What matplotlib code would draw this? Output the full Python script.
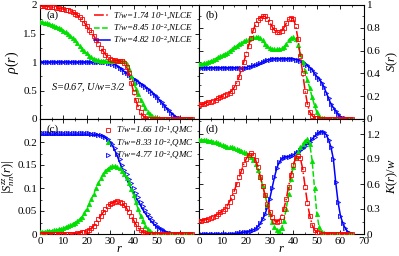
import numpy as np
import matplotlib
matplotlib.use("Agg")
import matplotlib.pyplot as plt
from matplotlib.ticker import FuncFormatter, MultipleLocator

plt.rcParams['font.family'] = ['Liberation Serif', 'DejaVu Serif']
plt.rcParams['mathtext.fontset'] = 'custom'
plt.rcParams['mathtext.rm'] = 'Liberation Serif'
plt.rcParams['mathtext.it'] = 'Liberation Serif:italic'

# radial distance
r = np.arange(66)

# (a) density rho(r)
rho_red = [1.98, 1.98, 1.98, 1.97, 1.97, 1.96, 1.96, 1.95, 1.94, 1.93,
           1.93, 1.92, 1.91, 1.90, 1.88, 1.85, 1.82, 1.79, 1.75, 1.69,
           1.63, 1.57, 1.52, 1.46, 1.39, 1.32, 1.25, 1.19, 1.13, 1.09,
           1.06, 1.04, 1.03, 1.02, 1.02, 1.01, 0.98, 0.92, 0.80, 0.64,
           0.48, 0.33, 0.21, 0.12, 0.06, 0.02, 0.005, 0, 0, 0,
           0, 0, 0, 0, 0, 0, 0, 0, 0, 0,
           0, 0, 0, 0, 0, 0]
rho_green = [1.70, 1.70, 1.69, 1.68, 1.67, 1.65, 1.64, 1.62, 1.60, 1.58,
             1.55, 1.52, 1.49, 1.46, 1.42, 1.38, 1.33, 1.28, 1.23, 1.19,
             1.15, 1.11, 1.08, 1.06, 1.04, 1.03, 1.02, 1.02, 1.02, 1.02,
             1.02, 1.02, 1.02, 1.02, 1.02, 1.02, 1.01, 0.97, 0.88, 0.76,
             0.64, 0.53, 0.43, 0.34, 0.26, 0.19, 0.13, 0.09, 0.06, 0.04,
             0.02, 0.01, 0.005, 0, 0, 0, 0, 0, 0, 0,
             0, 0, 0, 0, 0, 0]
rho_blue = [1.00, 1.00, 1.00, 1.00, 1.00, 1.00, 1.00, 1.00, 1.00, 1.00,
            1.00, 1.00, 1.00, 1.00, 1.00, 1.00, 1.00, 1.00, 1.00, 1.00,
            1.00, 1.00, 1.00, 1.00, 1.00, 1.00, 1.00, 1.00, 1.00, 0.99,
            0.98, 0.97, 0.95, 0.93, 0.90, 0.87, 0.83, 0.80, 0.77, 0.74,
            0.71, 0.68, 0.65, 0.62, 0.59, 0.56, 0.53, 0.50, 0.46, 0.42,
            0.38, 0.33, 0.29, 0.24, 0.19, 0.15, 0.11, 0.07, 0.04, 0.02,
            0.01, 0.005, 0, 0, 0, 0]

# (b) S(r)
s_red = [0.12, 0.13, 0.13, 0.14, 0.15, 0.15, 0.16, 0.17, 0.18, 0.19,
         0.20, 0.21, 0.22, 0.23, 0.25, 0.28, 0.32, 0.37, 0.44, 0.50,
         0.57, 0.64, 0.71, 0.78, 0.83, 0.87, 0.89, 0.90, 0.90, 0.88,
         0.85, 0.81, 0.78, 0.76, 0.76, 0.77, 0.80, 0.84, 0.88, 0.89,
         0.88, 0.82, 0.70, 0.55, 0.40, 0.25, 0.13, 0.06, 0.03, 0.01,
         0.005, 0, 0, 0, 0, 0, 0, 0, 0, 0,
         0, 0, 0, 0, 0, 0]
s_green = [0.48, 0.48, 0.49, 0.49, 0.50, 0.51, 0.52, 0.53, 0.54, 0.55,
           0.56, 0.57, 0.58, 0.60, 0.61, 0.63, 0.64, 0.66, 0.67, 0.68,
           0.69, 0.70, 0.71, 0.72, 0.72, 0.72, 0.71, 0.69, 0.66, 0.64,
           0.62, 0.61, 0.61, 0.61, 0.61, 0.62, 0.63, 0.66, 0.69, 0.71,
           0.72, 0.70, 0.65, 0.57, 0.50, 0.42, 0.34, 0.27, 0.19, 0.12,
           0.06, 0.03, 0.01, 0.005, 0, 0, 0, 0, 0, 0,
           0, 0, 0, 0, 0, 0]
s_blue = [0.45, 0.45, 0.45, 0.45, 0.45, 0.45, 0.45, 0.45, 0.45, 0.45,
          0.45, 0.45, 0.45, 0.45, 0.45, 0.45, 0.45, 0.45, 0.45, 0.45,
          0.45, 0.46, 0.46, 0.47, 0.47, 0.48, 0.49, 0.50, 0.51, 0.52,
          0.52, 0.53, 0.53, 0.53, 0.53, 0.53, 0.53, 0.53, 0.53, 0.53,
          0.53, 0.52, 0.52, 0.51, 0.50, 0.48, 0.47, 0.45, 0.43, 0.40,
          0.37, 0.35, 0.32, 0.28, 0.23, 0.18, 0.13, 0.10, 0.07, 0.04,
          0.02, 0.01, 0.005, 0, 0, 0]

# (c) |S^zz_nn(r)|
szz_red = [0, 0, 0, 0, 0, 0, 0, 0, 0, 0,
           0, 0, 0, 0, 0, 0.001, 0.002, 0.003, 0.004, 0.005,
           0.007, 0.009, 0.013, 0.018, 0.024, 0.032, 0.040, 0.047, 0.054, 0.060,
           0.065, 0.068, 0.070, 0.071, 0.070, 0.067, 0.062, 0.056, 0.048, 0.039,
           0.030, 0.021, 0.013, 0.008, 0.004, 0.002, 0.001, 0, 0, 0,
           0, 0, 0, 0, 0, 0, 0, 0, 0, 0,
           0, 0, 0, 0, 0, 0]
szz_green = [0.005, 0.005, 0.005, 0.006, 0.006, 0.007, 0.008, 0.009, 0.010, 0.011,
             0.013, 0.015, 0.017, 0.019, 0.022, 0.025, 0.028, 0.032, 0.038, 0.046,
             0.055, 0.065, 0.076, 0.088, 0.100, 0.111, 0.121, 0.130, 0.137, 0.142,
             0.145, 0.147, 0.147, 0.146, 0.143, 0.138, 0.131, 0.122, 0.111, 0.098,
             0.084, 0.069, 0.054, 0.040, 0.028, 0.018, 0.011, 0.006, 0.003, 0.002,
             0.001, 0, 0, 0, 0, 0, 0, 0, 0, 0,
             0, 0, 0, 0, 0, 0]
szz_blue = [0.215, 0.215, 0.215, 0.215, 0.215, 0.215, 0.215, 0.215, 0.215, 0.215,
            0.215, 0.215, 0.215, 0.215, 0.215, 0.215, 0.215, 0.215, 0.215, 0.215,
            0.215, 0.215, 0.215, 0.215, 0.215, 0.215, 0.214, 0.212, 0.209, 0.205,
            0.199, 0.192, 0.182, 0.170, 0.157, 0.144, 0.132, 0.120, 0.109, 0.099,
            0.090, 0.080, 0.071, 0.062, 0.053, 0.045, 0.038, 0.031, 0.025, 0.020,
            0.015, 0.012, 0.009, 0.006, 0.004, 0.003, 0.002, 0.001, 0.001, 0,
            0, 0, 0, 0, 0, 0]
szz_blue_qmc = [0.219, 0.219, 0.219, 0.219, 0.219, 0.219, 0.219, 0.219, 0.219, 0.219,
                0.219, 0.219, 0.219, 0.219, 0.219, 0.219, 0.219, 0.219, 0.219, 0.219,
                0.219, 0.219, 0.218, 0.218, 0.217, 0.216, 0.215, 0.213, 0.210, 0.206,
                0.201, 0.195, 0.186, 0.175, 0.163, 0.151, 0.140, 0.130, 0.120, 0.110,
                0.100, 0.090, 0.080, 0.070, 0.061, 0.052, 0.044, 0.037, 0.030, 0.024,
                0.018, 0.014, 0.010, 0.007, 0.005, 0.003, 0.002, 0.001, 0.001, 0,
                0, 0, 0, 0, 0, 0]

# (d) K(r)/w
k_red = [0.16, 0.16, 0.17, 0.17, 0.18, 0.19, 0.20, 0.22, 0.24, 0.26,
         0.28, 0.30, 0.34, 0.39, 0.45, 0.52, 0.60, 0.68, 0.76, 0.84,
         0.90, 0.95, 0.97, 0.95, 0.89, 0.80, 0.69, 0.58, 0.47, 0.36,
         0.27, 0.20, 0.16, 0.15, 0.16, 0.21, 0.30, 0.42, 0.57, 0.71,
         0.83, 0.91, 0.94, 0.91, 0.78, 0.57, 0.37, 0.22, 0.11, 0.05,
         0.02, 0.01, 0, 0, 0, 0, 0, 0, 0, 0,
         0, 0, 0, 0, 0, 0]
k_green = [1.13, 1.13, 1.13, 1.13, 1.12, 1.12, 1.11, 1.10, 1.09, 1.08,
           1.07, 1.06, 1.05, 1.05, 1.04, 1.03, 1.02, 1.01, 1.00, 0.99,
           0.97, 0.95, 0.93, 0.89, 0.84, 0.77, 0.68, 0.58, 0.47, 0.35,
           0.24, 0.15, 0.08, 0.05, 0.04, 0.07, 0.16, 0.30, 0.48, 0.66,
           0.81, 0.92, 0.99, 1.04, 1.08, 1.12, 1.14, 1.08, 0.88, 0.55,
           0.24, 0.08, 0.03, 0.01, 0.005, 0, 0, 0, 0, 0,
           0, 0, 0, 0, 0, 0]
k_blue = [0, 0, 0, 0, 0, 0, 0, 0, 0, 0,
          0, 0, 0, 0, 0, 0.005, 0.01, 0.01, 0.02, 0.02,
          0.03, 0.03, 0.04, 0.05, 0.06, 0.09, 0.13, 0.18, 0.24, 0.32,
          0.42, 0.55, 0.68, 0.79, 0.86, 0.90, 0.92, 0.93, 0.93, 0.94,
          0.95, 0.97, 0.99, 1.01, 1.03, 1.06, 1.09, 1.11, 1.14, 1.17,
          1.20, 1.22, 1.23, 1.22, 1.19, 1.13, 1.04, 0.90, 0.62, 0.38,
          0.22, 0.13, 0.07, 0.03, 0.01, 0.005]

nlce_labels = [r'$T/w$=1.74 10$^{-1}$,NLCE', r'$T/w$=8.45 10$^{-2}$,NLCE',
               r'$T/w$=4.82 10$^{-2}$,NLCE']
qmc_labels = [r'$T/w$=1.66 10$^{-1}$,QMC', r'$T/w$=8.33 10$^{-2}$,QMC',
              r'$T/w$=4.77 10$^{-2}$,QMC']

red, green, blue = '#ff0000', '#00e000', '#0000ff'
styles = [(red, '-.', 's', 'none'), (green, '--', '^', green), (blue, '-', '>', 'none')]

fig = plt.figure(figsize=(3.99, 2.56), dpi=100)
L, M, R = 40 / 399, 199 / 399, 364 / 399
T, C, B = 1 - 5 / 256, 1 - 119 / 256, 1 - 234 / 256
ax_a = fig.add_axes([L, C, M - L, T - C])
ax_b = fig.add_axes([M, C, R - M, T - C])
ax_c = fig.add_axes([L, B, M - L, C - B])
ax_d = fig.add_axes([M, B, R - M, C - B])

fmt = FuncFormatter(lambda v, p: '%g' % round(v, 3))


def draw(ax, line_sets, marker_sets, label_lines=None, label_marks=None):
    # red markers drawn last so they sit on top, as in the original figure
    z = [4, 3, 2]
    for i, (col, ls, mk, fc) in enumerate(styles):
        ax.plot(r, line_sets[i], color=col, ls=ls, lw=1.1, zorder=z[i],
                label=None if label_lines is None else label_lines[i])
        ax.plot(r, marker_sets[i], ls='none', marker=mk, ms=3, mew=0.6,
                mec=col, mfc=fc, zorder=z[i],
                label=None if label_marks is None else label_marks[i])


draw(ax_a, [rho_red, rho_green, rho_blue], [rho_red, rho_green, rho_blue],
     label_lines=nlce_labels)
draw(ax_b, [s_red, s_green, s_blue], [s_red, s_green, s_blue])
draw(ax_c, [szz_red, szz_green, szz_blue], [szz_red, szz_green, szz_blue_qmc],
     label_marks=qmc_labels)
draw(ax_d, [k_red, k_green, k_blue], [k_red, k_green, k_blue])

ax_a.set_xlim(0, 68)
ax_c.set_xlim(0, 68)
ax_b.set_xlim(0, 70)
ax_d.set_xlim(0, 70)
ax_a.set_ylim(0, 2)
ax_b.set_ylim(0, 1)
ax_c.set_ylim(0, 0.25)
ax_d.set_ylim(0, 1.38)

ax_a.set_yticks([0, 0.5, 1, 1.5, 2])
ax_b.set_yticks([0, 0.2, 0.4, 0.6, 0.8, 1])
ax_c.set_yticks([0, 0.05, 0.1, 0.15, 0.2])
ax_d.set_yticks([0, 0.3, 0.6, 0.9, 1.2])
ax_c.set_xticks([0, 10, 20, 30, 40, 50, 60])
ax_d.set_xticks([0, 10, 20, 30, 40, 50, 60, 70])
ax_a.set_xticks([0, 10, 20, 30, 40, 50, 60])
ax_b.set_xticks([0, 10, 20, 30, 40, 50, 60, 70])

minor_y = {ax_a: 0.25, ax_b: 0.1, ax_c: 0.025, ax_d: 0.15}
for ax in (ax_a, ax_b, ax_c, ax_d):
    ax.xaxis.set_minor_locator(MultipleLocator(5))
    ax.yaxis.set_minor_locator(MultipleLocator(minor_y[ax]))
    ax.tick_params(which='both', direction='in', top=True, right=True,
                   left=True, bottom=True, labelsize=8, pad=2)
    ax.tick_params(which='major', length=3, width=0.6)
    ax.tick_params(which='minor', length=1.5, width=0.5)
    ax.yaxis.set_major_formatter(fmt)
    ax.xaxis.set_major_formatter(fmt)
    for s in ax.spines.values():
        s.set_linewidth(0.8)

for ax in (ax_a, ax_b):
    ax.tick_params(labelbottom=False)
for ax in (ax_b, ax_d):
    ax.tick_params(labelleft=False, labelright=True)
    ax.yaxis.set_label_position('right')

ax_a.set_ylabel(r'$\rho(r)$', fontsize=10, labelpad=2)
ax_b.set_ylabel(r'$S(r)$', fontsize=9, labelpad=3)
ax_c.set_ylabel(r'$|S^{zz}_{nn}(r)|$', fontsize=9, labelpad=1)
ax_d.set_ylabel(r'$K(r)/w$', fontsize=9, labelpad=3)
ax_c.set_xlabel(r'$r$', fontsize=9, labelpad=-2)
ax_d.set_xlabel(r'$r$', fontsize=9, labelpad=-2)

for ax, tag in zip((ax_a, ax_b, ax_c, ax_d), ('(a)', '(b)', '(c)', '(d)')):
    ax.text(0.04, 0.95, tag, transform=ax.transAxes, fontsize=8, va='top', ha='left')

ax_a.text(4.5, 0.5, r'$S$=0.67, $U/w$=3/2', fontsize=7.5, style='italic')

ax_a.legend(loc='upper right', frameon=False, handlelength=1.8,
            handletextpad=0.4, labelspacing=0.1, borderaxespad=0.2,
            prop={'style': 'italic', 'size': 6.5})
ax_c.legend(loc='upper right', frameon=False, handlelength=0.8,
            handletextpad=0.4, labelspacing=0.05, borderaxespad=0.2,
            prop={'style': 'italic', 'size': 6.5})

fig.savefig('out.png', dpi=100)
